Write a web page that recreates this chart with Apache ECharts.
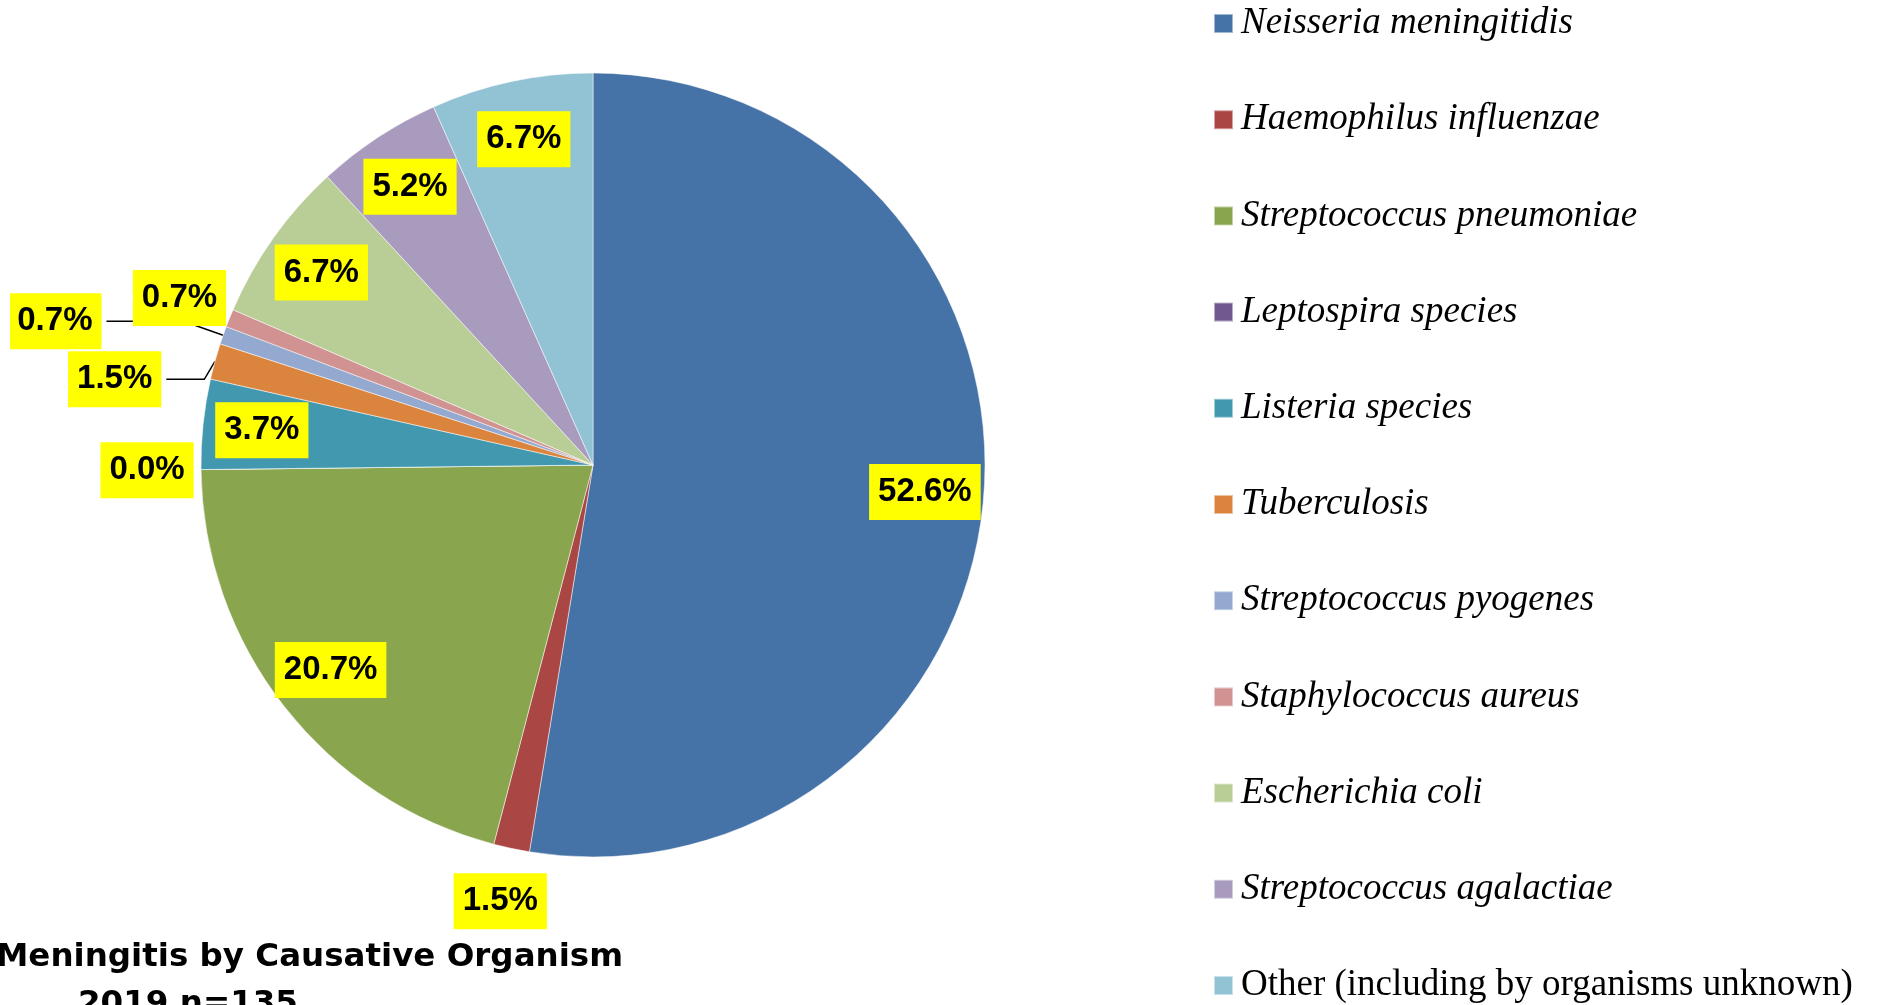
<!DOCTYPE html>
<html>
<head>
    <meta charset="utf-8">
    <title>Meningitis by Causative Organism</title>
    <script src="https://cdn.jsdelivr.net/npm/echarts@6/dist/echarts.min.js"></script>
    <style>
        html, body { margin: 0; padding: 0; background: #fff; }
        #chart { width: 1880px; height: 1005px; }
    </style>
</head>
<body>
<div id="chart"></div>
<script>
    var organisms = [
        'Neisseria meningitidis',
        'Haemophilus influenzae',
        'Streptococcus pneumoniae',
        'Leptospira species',
        'Listeria species',
        'Tuberculosis',
        'Streptococcus pyogenes',
        'Staphylococcus aureus',
        'Escherichia coli',
        'Streptococcus agalactiae',
        'Other (including by organisms unknown)'
    ];
    // cases, n=135
    var cases = [71, 2, 28, 0, 5, 2, 1, 1, 9, 7, 9];
    var sliceColors = ['#4572A7', '#AA4643', '#89A54E', '#71588F', '#4198AF', '#DB843D',
        '#93A9CF', '#D19392', '#B9CD96', '#A99BBD', '#92C3D4'];

    // where each percentage tag goes
    var insideLabels = ['Neisseria meningitidis', 'Streptococcus pneumoniae', 'Listeria species',
        'Escherichia coli', 'Streptococcus agalactiae', 'Other (including by organisms unknown)'];
    var rimLabels = ['Haemophilus influenzae', 'Leptospira species', 'Staphylococcus aureus'];
    var leaderLines = {
        'Tuberculosis': [8, 38],
        'Streptococcus pyogenes': [42, 77]
    };

    var CX = 593, CY = 465, R = 392;

    var tagStyle = {
        fontFamily: 'Liberation Sans',
        fontWeight: 'bold',
        fontSize: 33,
        lineHeight: 38,
        color: '#000',
        backgroundColor: '#ffff00',
        padding: [10, 9, 8, 9],
        overflow: 'none'
    };

    function pct(p) {
        return p.percent.toFixed(1) + '%';
    }

    // invisible ring that only carries labels for the given names
    function labelRing(radius, names) {
        return {
            type: 'pie',
            center: [CX, CY],
            radius: radius,
            startAngle: 90,
            silent: true,
            avoidLabelOverlap: false,
            emphasis: { disabled: true },
            itemStyle: { color: 'rgba(0,0,0,0)', borderWidth: 0 },
            label: Object.assign({ position: 'inside', formatter: pct }, tagStyle),
            labelLine: { show: false },
            data: organisms.map(function (name, i) {
                return { name: name, value: cases[i], label: { show: names.indexOf(name) >= 0 } };
            })
        };
    }

    var myChart = echarts.init(document.getElementById('chart'));

    var titleFont = { fontFamily: 'DejaVu Sans', fontWeight: 'bold', fontSize: 32.5, lineHeight: 32, color: '#000' };

    var option = {
        backgroundColor: '#fff',
        animation: false,
        title: [{
            text: 'Meningitis by Causative Organism',
            left: -4,
            top: 942,
            padding: 0,
            textStyle: titleFont
        }, {
            text: '2019 n=135',
            left: 78,
            top: 989,
            padding: 0,
            textStyle: titleFont
        }],
        legend: {
            orient: 'vertical',
            left: 1213,
            top: 5,
            padding: 0,
            icon: 'rect',
            itemWidth: 19,
            itemHeight: 19,
            itemGap: 59.2,
            selectedMode: false,
            data: organisms,
            formatter: function (name) {
                return name.indexOf('Other') === 0 ? '{up|' + name + '}' : '{it|' + name + '}';
            },
            textStyle: {
                fontFamily: 'Liberation Serif',
                fontSize: 37,
                lineHeight: 37,
                color: '#000',
                rich: {
                    it: { fontFamily: 'Liberation Serif', fontStyle: 'italic', fontSize: 37, lineHeight: 37, padding: [0, 0, 0, 3] },
                    up: { fontFamily: 'Liberation Serif', fontSize: 37, lineHeight: 37, padding: [0, 0, 0, 3] }
                }
            }
        },
        series: [{
            name: 'Meningitis',
            type: 'pie',
            center: [CX, CY],
            radius: R,
            startAngle: 90,
            emphasis: { disabled: true },
            itemStyle: { borderColor: 'rgba(255,255,255,0.5)', borderWidth: 1 },
            label: Object.assign({ position: 'outside', formatter: pct, edgeDistance: 0 }, tagStyle),
            labelLine: { lineStyle: { color: '#000', width: 1.5 } },
            data: organisms.map(function (name, i) {
                var ll = leaderLines[name];
                return {
                    name: name,
                    value: cases[i],
                    itemStyle: { color: sliceColors[i] },
                    label: { show: !!ll },
                    labelLine: ll ? { show: true, length: ll[0], length2: ll[1] } : { show: false }
                };
            })
        },
            labelRing([268, R], insideLabels),
            labelRing([R, 494], rimLabels)
        ]
    };

    myChart.setOption(option);
</script>
</body>
</html>
